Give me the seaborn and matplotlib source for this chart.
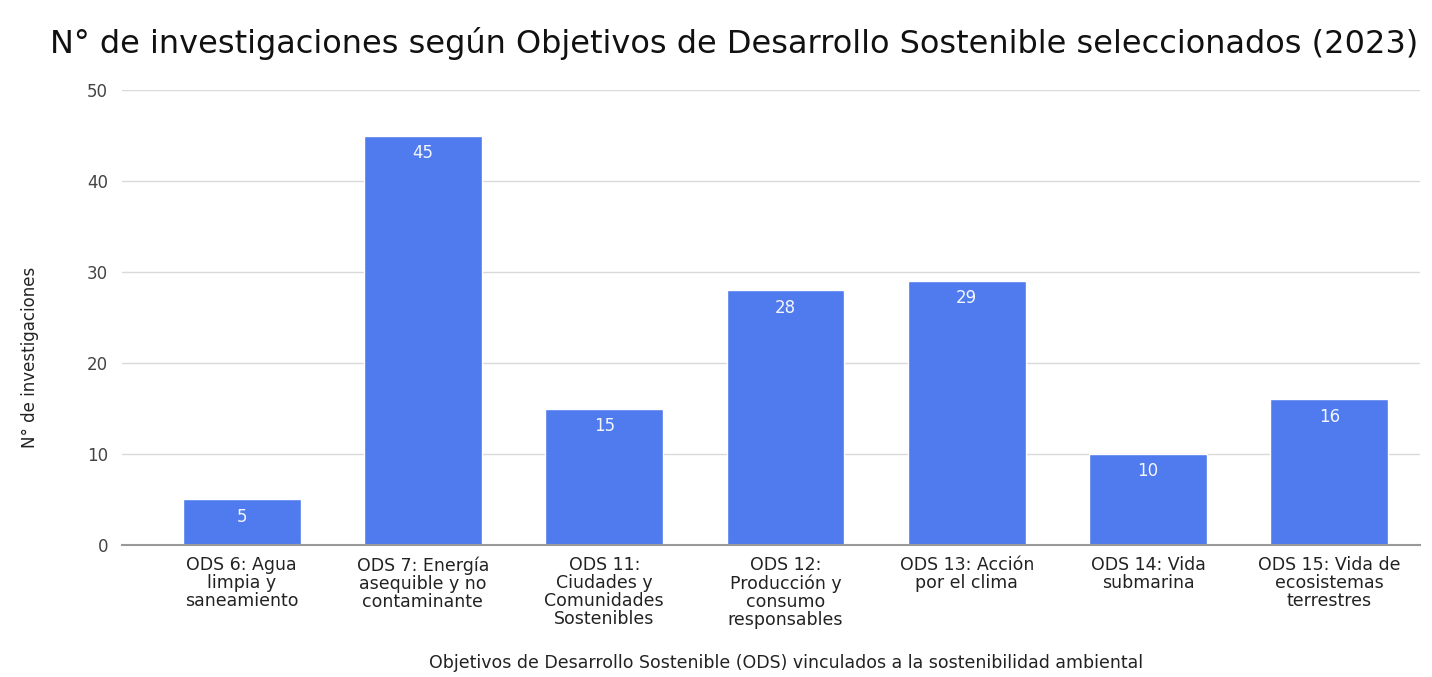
import matplotlib
matplotlib.use("Agg")
import matplotlib.pyplot as plt
import pandas as pd
import seaborn as sns

categorias = [
    "ODS 6: Agua\nlimpia y\nsaneamiento",
    "ODS 7: Energía\nasequible y no\ncontaminante",
    "ODS 11:\nCiudades y\nComunidades\nSostenibles",
    "ODS 12:\nProducción y\nconsumo\nresponsables",
    "ODS 13: Acción\npor el clima",
    "ODS 14: Vida\nsubmarina",
    "ODS 15: Vida de\necosistemas\nterrestres",
]
investigaciones = [5, 45, 15, 28, 29, 10, 16]
y_ticks = [0, 10, 20, 30, 40, 50]

df = pd.DataFrame({"ods": categorias, "n": investigaciones})

sns.set_theme(style="white")
plt.rcParams["font.family"] = ["DejaVu Sans"]

fig = plt.figure(figsize=(14.32, 6.77), dpi=100)
ax = fig.add_axes([0.0852, 0.195, 0.9064, 0.672])

sns.barplot(data=df, x="ods", y="n", color="#4f7bee", width=0.65,
            saturation=1, ax=ax, zorder=3)

# etiquetas de valor dentro de cada barra
for i, v in enumerate(investigaciones):
    ax.text(i, v - 1.9, str(v), ha="center", va="center", color="#f4f6ff",
            fontsize=12, zorder=4)

ax.set_ylim(0, 50)
ax.set_xlim(-0.66, 6.5)
ax.set_yticks(y_ticks)
ax.yaxis.grid(True, color="#d9d9d9", linewidth=1, zorder=0)
for s in ["top", "right", "left"]:
    ax.spines[s].set_visible(False)
ax.spines["bottom"].set_color("#999999")
ax.spines["bottom"].set_linewidth(1.5)
ax.spines["bottom"].set_zorder(5)
ax.tick_params(axis="y", length=0, pad=10, labelsize=12, labelcolor="#444444")
ax.tick_params(axis="x", length=0, pad=8, labelsize=12.5, labelcolor="#222222")
for lab in ax.get_xticklabels():
    lab.set_linespacing(1.0)

ax.set_xlabel("Objetivos de Desarrollo Sostenible (ODS) vinculados a la sostenibilidad ambiental",
              fontsize=12.5, color="#222222")
ax.xaxis.set_label_coords(0.5116, -0.24)
ax.set_ylabel("N° de investigaciones", fontsize=12, color="#222222")
ax.yaxis.set_label_coords(-0.064, 0.413)

fig.text(0.513, 0.936,
         "N° de investigaciones según Objetivos de Desarrollo Sostenible seleccionados (2023)",
         ha="center", va="center", fontsize=23, color="#111111")

fig.savefig("out.png", dpi=100)
